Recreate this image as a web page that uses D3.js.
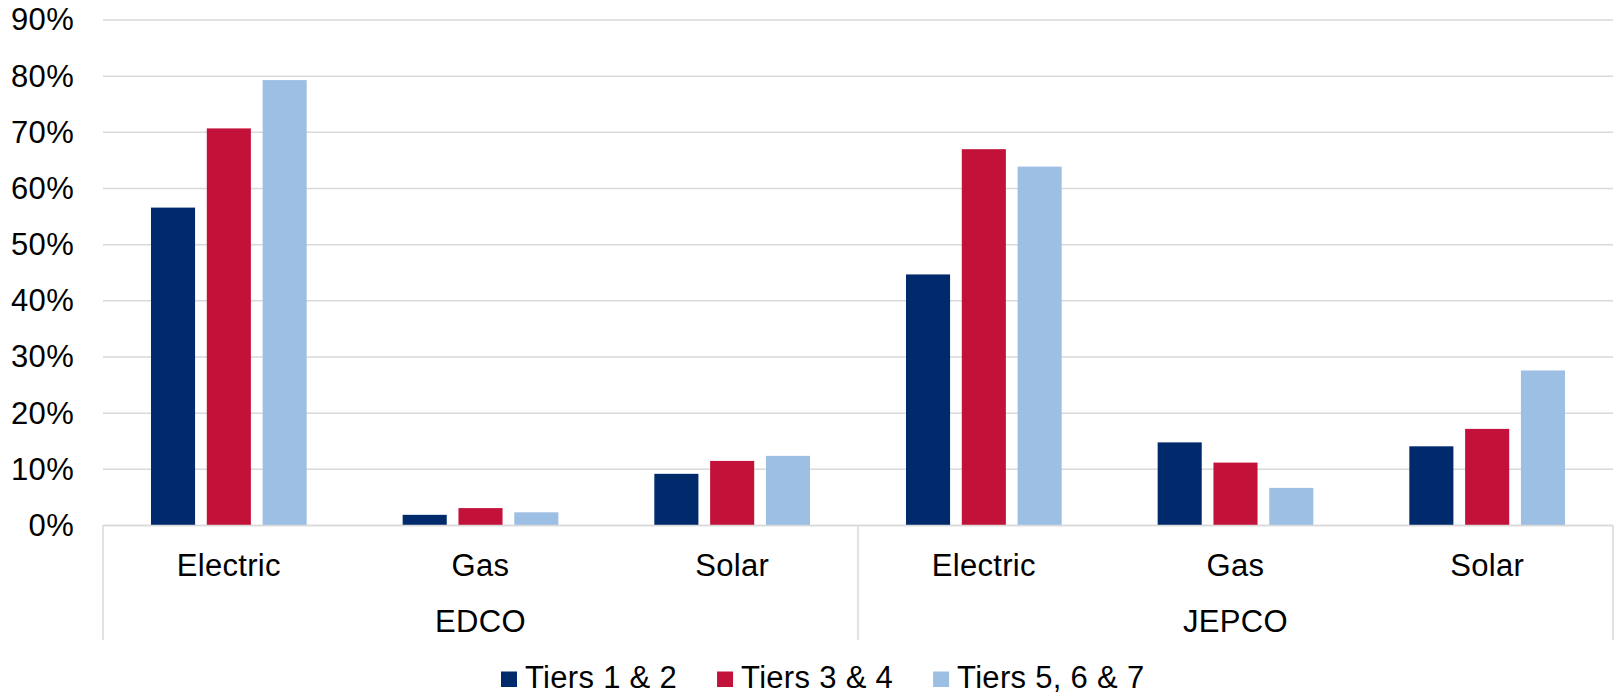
<!DOCTYPE html>
<html>
<head>
<meta charset="utf-8">
<script src="https://cdn.jsdelivr.net/npm/d3@7/dist/d3.min.js"></script>
<style>
  html, body { margin: 0; padding: 0; background: #fff; }
  svg { display: block; }
  text { font-family: "Liberation Sans", Arial, sans-serif; fill: #000; letter-spacing: 0.3px; }
</style>
</head>
<body>
<svg id="chart" width="1617" height="696"></svg>
<script>
// ---- data ----
const groups = ["EDCO", "JEPCO"];
const categories = ["Electric", "Gas", "Solar"];
const series = ["Tiers 1 & 2", "Tiers 3 & 4", "Tiers 5, 6 & 7"];
const colors = ["#002A6C", "#C3123A", "#9DBFE4"];
// values per series, order: EDCO Electric, Gas, Solar, JEPCO Electric, Gas, Solar
const tiers12  = [56.6, 1.9, 9.2, 44.7, 14.8, 14.1];
const tiers34  = [70.7, 3.1, 11.5, 67.0, 11.2, 17.2];
const tiers567 = [79.3, 2.35, 12.4, 63.9, 6.7, 27.6];
const yTicks = [0, 10, 20, 30, 40, 50, 60, 70, 80, 90];

const seriesValues = [tiers12, tiers34, tiers567];

// ---- layout ----
const svg = d3.select("#chart");
const plotLeft = 103, plotRight = 1613, plotTop = 20, plotBottom = 525.5;
const fs = 31;

const slots = [];
groups.forEach(g => categories.forEach(c => slots.push(g + "|" + c)));

const x = d3.scaleBand().domain(slots).range([plotLeft, plotRight]).padding(0);
const xInner = d3.scaleBand().domain(series).range([0, x.bandwidth()])
  .paddingInner(0.21).paddingOuter(0.86);
const y = d3.scaleLinear().domain([0, 90]).range([plotBottom, plotTop]);

// gridlines
svg.append("g").selectAll("line").data(yTicks).join("line")
  .attr("x1", plotLeft).attr("x2", plotRight)
  .attr("y1", d => y(d)).attr("y2", d => y(d))
  .attr("stroke", "#d9d9d9").attr("stroke-width", 1.5);

// y-axis labels
const yAxis = d3.axisLeft(y).tickValues(yTicks).tickFormat(d => d + "%").tickSize(0).tickPadding(29);
const ya = svg.append("g").attr("transform", `translate(${plotLeft},0)`).call(yAxis);
ya.select(".domain").remove();
ya.attr("font-family", null).attr("font-size", null);
ya.selectAll("text").attr("font-size", fs).attr("fill", "#000");

// bars
const barData = [];
seriesValues.forEach((vals, si) => vals.forEach((v, i) => barData.push({slot: slots[i], s: series[si], si, v})));
svg.append("g").selectAll("rect").data(barData).join("rect")
  .attr("x", d => x(d.slot) + xInner(d.s))
  .attr("width", xInner.bandwidth())
  .attr("y", d => y(d.v))
  .attr("height", d => y(0) - y(d.v))
  .attr("fill", d => colors[d.si]);

// category axis line
svg.append("line").attr("x1", plotLeft).attr("x2", plotRight).attr("y1", plotBottom).attr("y2", plotBottom)
  .attr("stroke", "#d9d9d9").attr("stroke-width", 1.5);

// group separators
const sepBottom = 640;
const sepX = [plotLeft];
groups.forEach(g => sepX.push(x(g + "|" + categories[categories.length - 1]) + x.bandwidth()));
svg.append("g").selectAll("line").data(sepX).join("line")
  .attr("x1", d => d).attr("x2", d => d)
  .attr("y1", plotBottom).attr("y2", sepBottom)
  .attr("stroke", "#d9d9d9").attr("stroke-width", 1.5);

// category labels
svg.append("g").selectAll("text").data(slots).join("text")
  .attr("x", d => x(d) + x.bandwidth() / 2)
  .attr("y", 575.5)
  .attr("text-anchor", "middle")
  .attr("font-size", fs)
  .text(d => d.split("|")[1]);

// group labels
svg.append("g").selectAll("text").data(groups).join("text")
  .attr("x", g => (x(g + "|" + categories[0]) + x(g + "|" + categories[categories.length - 1]) + x.bandwidth()) / 2)
  .attr("y", 631.5)
  .attr("text-anchor", "middle")
  .attr("font-size", fs)
  .text(g => g);

// legend
const legend = svg.append("g");
let lx = 501;
series.forEach((s, i) => {
  legend.append("rect").attr("x", lx).attr("y", 671.5).attr("width", 16).attr("height", 15.5).attr("fill", colors[i]);
  const t = legend.append("text").attr("x", lx + 24).attr("y", 688).attr("font-size", fs).text(s);
  lx = lx + 24 + t.node().getComputedTextLength() + 40;
});
</script>
</body>
</html>
